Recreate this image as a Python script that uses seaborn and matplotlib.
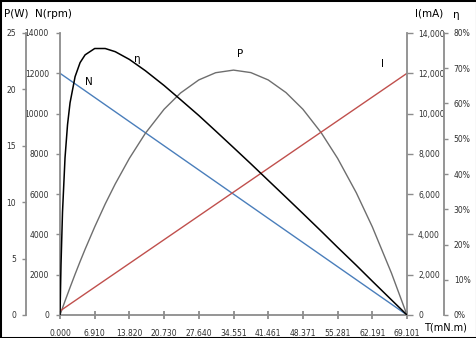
import matplotlib
matplotlib.use("Agg")
import matplotlib.pyplot as plt
import seaborn as sns
import pandas as pd
from matplotlib.patches import Rectangle
from matplotlib.ticker import FixedLocator

# ---- data ----
torque = [0, 0.2, 0.5, 1, 1.5, 2, 3, 4, 5, 6.91, 9, 11, 13.82, 17, 20.73, 24, 27.64,
          31, 34.55, 38, 41.46, 45, 48.37, 52, 55.28, 59, 62.19, 66, 69.101]
speed = [12000, 11965, 11913, 11826, 11740, 11653, 11479, 11305, 11132, 10800, 10437,
         10090, 9600, 9048, 8400, 7832, 7200, 6617, 6000, 5401, 4800, 4185, 3600, 2970,
         2400, 1754, 1200, 539, 0]
power = [0, 0.25, 0.62, 1.24, 1.84, 2.44, 3.61, 4.74, 5.83, 7.81, 9.84, 11.62, 13.89,
         16.11, 18.24, 19.68, 20.84, 21.48, 21.71, 21.49, 20.84, 19.72, 18.24, 16.17,
         13.89, 10.84, 7.82, 3.72, 0]
current = [200, 234, 285, 371, 456, 542, 712, 883, 1054, 1380, 1737, 2078, 2560, 3103,
           3740, 4298, 4920, 5494, 6100, 6689, 7280, 7884, 8460, 9080, 9640, 10275,
           10820, 11470, 12000]
efficiency = [0, 14.3, 29.2, 44.6, 54.0, 60.2, 67.6, 71.6, 73.8, 75.6, 75.6, 74.7, 72.5,
              69.3, 65.1, 61.1, 56.6, 52.2, 47.5, 42.9, 38.2, 33.4, 28.8, 23.8, 19.2,
              14.1, 9.6, 4.3, 0]

x_ticks = [0.000, 6.910, 13.820, 20.730, 27.640, 34.551, 41.461, 48.371, 55.281, 62.191, 69.101]
p_ticks = [0, 5, 10, 15, 20, 25]
n_ticks = [0, 2000, 4000, 6000, 8000, 10000, 12000, 14000]
i_ticks = [0, 2000, 4000, 6000, 8000, 10000, 12000, 14000]
e_ticks = [0, 10, 20, 30, 40, 50, 60, 70, 80]

df = pd.DataFrame({"T": torque, "N": speed, "P": power, "I": current, "E": efficiency})

sns.set_style("white")
plt.rcParams['font.family'] = ['DejaVu Sans']

W, H = 477, 338
L, R, TOP, B = 60, 407, 33, 315
PX = 72 / 100  # points per pixel
fig = plt.figure(figsize=(W / 100, H / 100), dpi=100)
ax = fig.add_axes([L / W, 1 - B / H, (R - L) / W, (B - TOP) / H])
axP = ax.twinx()
axI = ax.twinx()
axE = ax.twinx()

spine_c = '#8c8c8c'
txt_c = '#303030'
fs = 5.5

sns.lineplot(data=df, x="T", y="N", ax=ax, color='#4A7EBB', lw=1.0)
sns.lineplot(data=df, x="T", y="I", ax=axI, color='#C0504D', lw=1.0)
sns.lineplot(data=df, x="T", y="P", ax=axP, color='#6e6e6e', lw=1.0)
sns.lineplot(data=df, x="T", y="E", ax=axE, color='black', lw=1.1)

for a in (ax, axP, axI, axE):
    a.set_xlabel("")
    a.set_ylabel("")
    for s in a.spines.values():
        s.set_visible(False)
        s.set_color(spine_c)
        s.set_linewidth(1.3)
    a.set_xlim(0, 69.101)

ax.set_ylim(0, 14000)
axP.set_ylim(0, 25)
axI.set_ylim(0, 14000)
axE.set_ylim(0, 80)

# main axis (N) left spine + x axis
ax.spines['left'].set_visible(True)
ax.spines['bottom'].set_visible(True)
ax.xaxis.set_major_locator(FixedLocator(x_ticks))
ax.set_xticklabels([f"{v:.3f}" for v in x_ticks])
ax.tick_params(axis='x', direction='inout', length=6, width=1.3, color=spine_c,
               pad=7, labelsize=fs, labelcolor=txt_c, bottom=True)
ax.yaxis.set_major_locator(FixedLocator(n_ticks))
ax.set_yticklabels([str(v) for v in n_ticks])
ax.tick_params(axis='y', direction='out', length=3, width=1, color=spine_c,
               pad=5, labelsize=fs, labelcolor=txt_c, left=True)

# P axis: left, outward
axP.yaxis.set_ticks_position('left')
axP.yaxis.set_label_position('left')
axP.spines['left'].set_visible(True)
axP.spines['left'].set_position(('outward', 34 * PX))
axP.yaxis.set_major_locator(FixedLocator(p_ticks))
axP.set_yticklabels([str(v) for v in p_ticks])
axP.tick_params(axis='y', direction='out', length=3, width=1, color=spine_c,
                pad=4, labelsize=fs, labelcolor=txt_c, left=True, right=False,
                labelleft=True, labelright=False)

# I axis: right
axI.spines['right'].set_visible(True)
axI.yaxis.set_major_locator(FixedLocator(i_ticks))
axI.set_yticklabels([f"{v:,}" for v in i_ticks])
axI.tick_params(axis='y', direction='out', length=4, width=1, color=spine_c,
                pad=4, labelsize=fs, labelcolor=txt_c, right=True)

# efficiency axis: right outward
axE.spines['right'].set_visible(True)
axE.spines['right'].set_position(('outward', 37 * PX))
axE.yaxis.set_major_locator(FixedLocator(e_ticks))
axE.set_yticklabels([f"{v}%" for v in e_ticks])
axE.tick_params(axis='y', direction='out', length=3, width=1, color=spine_c,
                pad=4, labelsize=fs, labelcolor=txt_c, right=True)

for a in (axP, axI, axE):
    a.tick_params(axis='x', bottom=False, labelbottom=False, top=False, labeltop=False)
    a.grid(False)
ax.grid(False)

def ftxt(x, y, s, size=7.5, ha='left'):
    fig.text(x / W, 1 - y / H, s, fontsize=size, ha=ha, va='center', color='black')

ftxt(4, 14, "P(W)")
ftxt(35, 14, "N(rpm)")
ftxt(415, 14, "I(mA)")
ftxt(453, 15, "η")
ftxt(424, 327, "T(mN.m)", 7)

ftxt(85, 82, "N", 7.5)
ftxt(134, 59, "η", 7.5)
ftxt(237, 54, "P", 7.5)
ftxt(381, 64, "I", 7.5)

fig.add_artist(Rectangle((0, 0), 1, 1, transform=fig.transFigure, fill=False,
                         edgecolor='black', lw=2.2))

fig.savefig("out.png", dpi=100)
